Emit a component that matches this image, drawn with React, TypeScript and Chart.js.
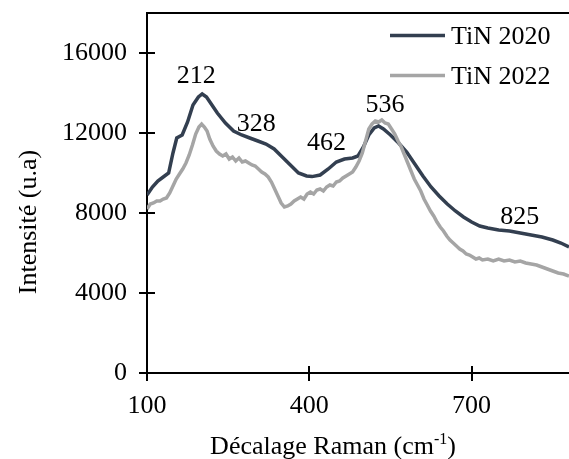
import React, { useEffect, useRef } from "react";
import { Chart, registerables } from "chart.js";

Chart.register(...registerables);

const FONT = "'Liberation Serif', 'Times New Roman', serif";
const FS = 26;

const seriesNames = ["TiN 2020", "TiN 2022"];
const seriesColors = ["#333F50", "#A5A5A5"];

const shift2020 = [100, 110, 120, 130, 140, 148, 155, 165, 175, 185, 195, 202, 210, 220, 230, 245, 260, 275, 290, 305, 320, 335, 350, 365, 380, 395, 405, 420, 435, 450, 465, 480, 490, 500, 510, 520, 528, 537, 550, 565, 580, 595, 610, 625, 640, 655, 670, 685, 700, 715, 730, 750, 770, 790, 810, 830, 850, 865, 880];
const tin2020 = [8900, 9300, 9600, 9800, 10000, 11000, 11750, 11900, 12550, 13400, 13800, 13950, 13800, 13400, 13000, 12500, 12100, 11900, 11750, 11600, 11450, 11200, 10800, 10400, 10000, 9850, 9820, 9900, 10200, 10550, 10700, 10750, 10850, 11300, 11900, 12250, 12350, 12200, 11900, 11500, 11050, 10450, 9850, 9300, 8850, 8450, 8100, 7800, 7550, 7350, 7250, 7150, 7100, 7000, 6900, 6800, 6650, 6500, 6300];

const shift2022 = [100, 106, 112, 118, 124, 130, 136, 142, 148, 154, 160, 166, 172, 178, 184, 190, 196, 201, 206, 211, 216, 222, 228, 234, 240, 246, 252, 258, 264, 270, 276, 282, 288, 294, 300, 306, 312, 318, 324, 330, 336, 342, 348, 354, 360, 366, 372, 378, 384, 390, 396, 402, 408, 414, 420, 426, 432, 438, 444, 450, 456, 462, 468, 474, 480, 486, 492, 498, 504, 510, 516, 522, 528, 534, 540, 546, 552, 558, 564, 570, 576, 582, 588, 594, 600, 606, 612, 618, 624, 630, 636, 642, 648, 654, 660, 666, 672, 678, 684, 690, 696, 702, 708, 714, 720, 730, 740, 750, 760, 770, 780, 790, 800, 810, 820, 830, 840, 850, 860, 870, 880];
const tin2022 = [8200, 8450, 8500, 8600, 8600, 8700, 8750, 9000, 9350, 9700, 9950, 10200, 10500, 10900, 11400, 11950, 12300, 12450, 12300, 12100, 11700, 11350, 11100, 10950, 10850, 10950, 10700, 10800, 10600, 10750, 10550, 10600, 10500, 10400, 10350, 10200, 10050, 9950, 9800, 9550, 9200, 8850, 8500, 8300, 8350, 8450, 8600, 8700, 8800, 8700, 8950, 9050, 8950, 9150, 9200, 9100, 9300, 9400, 9350, 9550, 9600, 9750, 9850, 9950, 10050, 10300, 10600, 11000, 11600, 12200, 12450, 12600, 12550, 12650, 12500, 12450, 12200, 11950, 11600, 11300, 10900, 10500, 10100, 9700, 9400, 9100, 8700, 8400, 8100, 7850, 7550, 7300, 7100, 6850, 6650, 6500, 6350, 6200, 6100, 5950, 5900, 5800, 5700, 5750, 5650, 5700, 5600, 5700, 5600, 5650, 5550, 5600, 5500, 5450, 5400, 5300, 5200, 5100, 5000, 4950, 4850];

const xTicks = [100, 400, 700];
const yTicks = [0, 4000, 8000, 12000, 16000];

const peakLabels = ["212", "328", "462", "536", "825"];
const peakLabelX = [191, 302, 432, 540, 789];
const peakLabelY = [14950, 12550, 11600, 13500, 7870];

const xTitle = "Décalage Raman (cm";
const xTitleSup = "-1";
const yTitle = "Intensité (u.a)";

const overlay = {
  id: "overlay",
  afterDraw(chart: any) {
    const ctx = chart.ctx;
    const { left, right, top, bottom } = chart.chartArea;
    const xs = chart.scales.x;
    const ys = chart.scales.y;
    ctx.save();
    ctx.strokeStyle = "#000";
    ctx.lineWidth = 2;
    ctx.beginPath();
    ctx.moveTo(left - 1, top);
    ctx.lineTo(right, top);
    ctx.stroke();
    yTicks.forEach((v) => {
      const y = Math.round(ys.getPixelForValue(v));
      ctx.beginPath();
      ctx.moveTo(left - 8, y);
      ctx.lineTo(left + 8, y);
      ctx.stroke();
    });
    xTicks.forEach((v) => {
      const x = Math.round(xs.getPixelForValue(v));
      ctx.beginPath();
      ctx.moveTo(x, bottom - 7);
      ctx.lineTo(x, bottom + 8);
      ctx.stroke();
    });
    ctx.fillStyle = "#000";
    ctx.font = `${FS}px ${FONT}`;
    ctx.textAlign = "center";
    ctx.textBaseline = "alphabetic";
    peakLabels.forEach((t, i) => {
      const x = xs.getPixelForValue(peakLabelX[i]);
      const y = ys.getPixelForValue(peakLabelY[i]);
      ctx.fillText(t, x, y + FS * 0.33);
    });
    chart.data.datasets.forEach((ds: any, i: number) => {
      const cy = 35.5 + i * 40;
      ctx.strokeStyle = ds.borderColor;
      ctx.lineWidth = 3.5;
      ctx.beginPath();
      ctx.moveTo(390, cy);
      ctx.lineTo(445, cy);
      ctx.stroke();
      ctx.textAlign = "left";
      ctx.fillText(ds.label, 451, cy + FS * 0.33);
    });
    const supFont = `${Math.round(FS * 0.62)}px ${FONT}`;
    const mainFont = `${FS}px ${FONT}`;
    const w1 = ctx.measureText(xTitle).width;
    ctx.font = supFont;
    const w2 = ctx.measureText(xTitleSup).width;
    ctx.font = mainFont;
    const w3 = ctx.measureText(")").width;
    const total = w1 + w2 + w3;
    const x0 = 333 - total / 2;
    const base = 454;
    ctx.textAlign = "left";
    ctx.fillText(xTitle, x0, base);
    ctx.font = supFont;
    ctx.fillText(xTitleSup, x0 + w1, base - 10);
    ctx.font = mainFont;
    ctx.fillText(")", x0 + w1 + w2, base);
    ctx.translate(36, 222);
    ctx.rotate(-Math.PI / 2);
    ctx.textAlign = "center";
    ctx.fillText(yTitle, 0, 0);
    ctx.restore();
  },
};

export default function App() {
  const ref = useRef<HTMLCanvasElement | null>(null);
  useEffect(() => {
    if (!ref.current) return;
    const chart = new Chart(ref.current, {
      type: "line",
      data: {
        datasets: [
          {
            label: seriesNames[0],
            data: shift2020.map((x, i) => ({ x, y: tin2020[i] })),
            borderColor: seriesColors[0],
            borderWidth: 3.5,
            pointRadius: 0,
            tension: 0,
            order: 1,
          },
          {
            label: seriesNames[1],
            data: shift2022.map((x, i) => ({ x, y: tin2022[i] })),
            borderColor: seriesColors[1],
            borderWidth: 3.5,
            pointRadius: 0,
            tension: 0,
            order: 0,
          },
        ],
      },
      options: {
        responsive: false,
        animation: false,
        events: [],
        layout: { padding: { top: 13, right: 0, left: 0, bottom: 0 } },
        plugins: { legend: { display: false }, tooltip: { enabled: false } },
        scales: {
          x: {
            type: "linear",
            min: 100,
            max: 880,
            afterBuildTicks: (s: any) => {
              s.ticks = xTicks.map((v) => ({ value: v }));
            },
            afterFit: (s: any) => {
              s.height = 86;
              s.paddingLeft = 0;
              s.paddingRight = 0;
            },
            grid: { display: false, drawTicks: false },
            border: { display: true, color: "#000", width: 2 },
            ticks: {
              color: "#000",
              font: { family: FONT, size: FS },
              padding: 18,
              maxRotation: 0,
              autoSkip: false,
              callback: (v: any) => String(v),
            },
          },
          y: {
            type: "linear",
            min: 0,
            max: 18000,
            afterBuildTicks: (s: any) => {
              s.ticks = yTicks.map((v) => ({ value: v }));
            },
            afterFit: (s: any) => {
              s.width = 147;
              s.paddingTop = 0;
              s.paddingBottom = 0;
            },
            grid: { display: false, drawTicks: false },
            border: { display: true, color: "#000", width: 2 },
            ticks: {
              color: "#000",
              font: { family: FONT, size: FS },
              padding: 20,
              autoSkip: false,
              callback: (v: any) => String(v),
            },
          },
        },
      },
      plugins: [overlay],
    });
    return () => chart.destroy();
  }, []);
  return (
    <div style={{ position: "absolute", left: 0, top: 0, width: 569, height: 459, background: "#fff" }}>
      <canvas ref={ref} width={569} height={459} style={{ width: 569, height: 459, display: "block" }} />
    </div>
  );
}
